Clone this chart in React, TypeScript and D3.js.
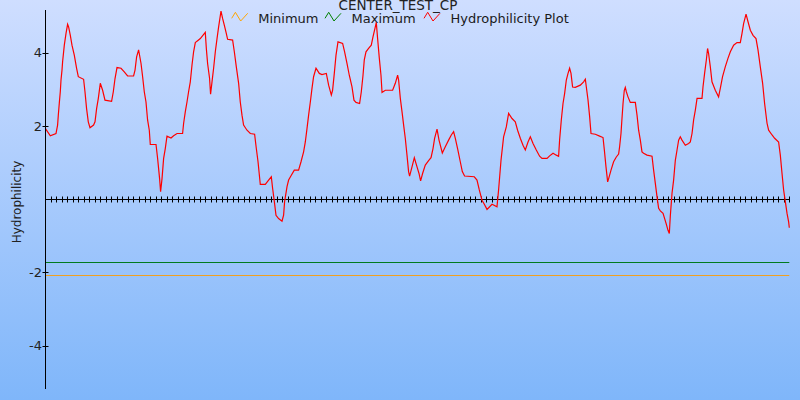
import React from "react";
import * as d3 from "d3";

const title = "CENTER_TEST_CP";
const yLabel = "Hydrophilicity";
const yTickValues = [4, 2, -2, -4];
const residueTicks = d3.range(1, 136);
const minimumValue = -2.08;
const maximumValue = -1.71;

const residue = [
  0, 0.91, 1.94, 2.23, 2.36, 2.54, 2.72, 2.85, 3.03, 3.14, 3.45, 3.76, 4.05, 4.23, 4.54, 4.84, 5.26, 5.68, 5.99, 6.95,
  7.2, 7.49, 7.8, 8.11, 8.76, 9.02, 9.31, 9.62, 9.98, 10.4, 10.83, 12.03, 12.34, 12.65, 13.01, 13.74, 14.33, 14.93, 16.02, 16.28,
  16.57, 16.93, 17.37, 17.66, 17.96, 18.27, 18.56, 18.87, 19.05, 20.09, 20.38, 20.74, 20.92, 21.18, 21.47, 21.77, 22.08, 22.81, 23.28, 23.9,
  24.91, 25.1, 25.4, 25.71, 26.0, 26.31, 26.62, 26.91, 27.22, 27.53, 28.13, 29.03, 29.22, 29.45, 29.81, 29.99, 30.25, 30.54, 30.85, 31.16,
  31.45, 31.88, 32.17, 32.48, 32.84, 33.08, 33.99, 34.3, 34.66, 35.08, 35.38, 35.69, 35.98, 36.6, 37.2, 37.98, 38.29, 38.6, 39.01, 39.92,
  40.52, 41.01, 41.25, 41.56, 41.86, 42.33, 42.95, 43.24, 43.42, 43.86, 44.15, 44.64, 45.18, 45.96, 46.4, 46.87, 47.18, 47.49, 47.78, 48.09,
  48.39, 48.68, 49.12, 49.72, 50.2, 50.99, 51.41, 51.9, 52.13, 52.44, 52.75, 53.11, 53.95, 54.31, 54.75, 55.16, 55.65, 56.01, 56.38, 57.03,
  57.34, 57.65, 57.88, 58.19, 58.66, 59.15, 59.46, 59.88, 60.06, 60.3, 60.61, 60.91, 61.1, 61.7, 63.02, 63.51, 63.93, 64.11, 64.42, 64.73,
  65.02, 65.32, 65.63, 65.92, 66.1, 66.54, 66.96, 67.45, 67.81, 68.1, 68.46, 68.95, 69.55, 69.99, 70.35, 70.64, 71.08, 71.44, 72.04, 72.58,
  73.18, 73.67, 74.09, 74.4, 74.81, 75.3, 75.67, 76.08, 77.84, 78.33, 78.75, 79.24, 79.66, 80.15, 81.06, 81.96, 82.25, 82.69, 83.16, 83.65,
  84.07, 84.69, 85.28, 85.7, 86.19, 86.68, 87.1, 87.59, 88.01, 88.5, 89.09, 89.69, 90.13, 91.04, 91.51, 92.13, 92.72, 93.14, 93.32, 93.63,
  93.94, 94.23, 94.54, 94.85, 95.14, 95.39, 95.68, 96.17, 97.08, 97.68, 97.99, 98.17, 98.48, 98.77, 99.02, 99.8, 100.58, 101.2, 101.44, 101.74,
  102.04, 102.22, 102.65, 103.12, 103.61, 104.03, 104.21, 104.46, 104.64, 104.83, 105.06, 105.24, 105.43, 105.73, 106.15, 107.06, 107.37, 107.66, 107.97, 108.27,
  108.56, 109.18, 110.09, 110.38, 110.69, 111.0, 111.29, 111.6, 112.09, 112.38, 112.68, 112.99, 113.23, 113.41, 113.72, 114.01, 114.32, 114.63, 114.92, 115.22,
  115.53, 116.13, 116.73, 117.04, 117.35, 117.64, 117.95, 118.26, 119.16, 119.34, 119.63, 119.94, 120.17, 120.35, 120.67, 120.97, 121.57, 122.17, 122.48, 122.89,
  123.38, 123.87, 124.3, 124.9, 125.51, 126.11, 126.42, 126.71, 127.15, 127.51, 127.93, 128.42, 128.96, 129.32, 129.74, 130.16, 130.52, 130.96, 131.25, 131.87,
  132.34, 133.06, 133.37, 133.68, 133.97, 134.28, 134.59, 134.88, 135
];

const hydrophilicity = [
  1.93, 1.73, 1.79, 2.02, 2.29, 2.62, 2.93, 3.25, 3.52, 3.75, 4.2, 4.52, 4.77, 4.7, 4.47, 4.2, 3.93, 3.57, 3.34, 3.27,
  2.93, 2.47, 2.11, 1.95, 2.02, 2.11, 2.47, 2.75, 3.16, 2.97, 2.7, 2.67, 2.93, 3.29, 3.59, 3.57, 3.47, 3.36, 3.36, 3.52,
  3.88, 4.07, 3.7, 3.34, 2.93, 2.65, 2.16, 1.88, 1.49, 1.49, 1.11, 0.56, 0.2, 0.56, 1.11, 1.38, 1.72, 1.67, 1.73, 1.79,
  1.79, 2.07, 2.38, 2.65, 2.93, 3.2, 3.66, 4.02, 4.27, 4.31, 4.38, 4.55, 4.11, 3.7, 3.29, 2.86, 3.2, 3.57, 4.02, 4.38,
  4.7, 5.13, 4.93, 4.75, 4.52, 4.36, 4.34, 4.02, 3.61, 3.16, 2.65, 2.29, 2.02, 1.88, 1.79, 1.77, 1.38, 1.02, 0.4, 0.4,
  0.52, 0.61, 0.29, -0.07, -0.44, -0.53, -0.6, -0.44, -0.07, 0.34, 0.52, 0.65, 0.79, 0.79, 1.02, 1.29, 1.56, 1.93, 2.29, 2.65,
  3.02, 3.34, 3.57, 3.43, 3.4, 3.43, 3.11, 2.84, 2.97, 3.43, 3.93, 4.29, 4.25, 4.02, 3.7, 3.38, 3.06, 2.7, 2.64, 2.61,
  2.93, 3.38, 3.8, 4.02, 4.11, 4.2, 4.43, 4.7, 4.82, 4.38, 3.84, 3.38, 2.91, 2.97, 2.97, 3.16, 3.38, 3.25, 2.75, 2.38,
  2.02, 1.66, 1.2, 0.75, 0.63, 0.88, 1.13, 0.88, 0.7, 0.5, 0.7, 0.93, 1.05, 1.13, 1.38, 1.66, 1.91, 1.61, 1.26, 1.43,
  1.61, 1.75, 1.84, 1.66, 1.38, 1.02, 0.75, 0.63, 0.61, 0.52, 0.25, -0.03, -0.14, -0.28, -0.14, -0.21, 0.25, 1.06, 1.7, 1.97,
  2.34, 2.2, 2.11, 1.88, 1.66, 1.47, 1.34, 1.56, 1.7, 1.52, 1.34, 1.17, 1.11, 1.11, 1.18, 1.25, 1.2, 1.17, 1.61, 2.16,
  2.61, 2.88, 3.25, 3.43, 3.57, 3.43, 3.06, 3.05, 3.11, 3.2, 3.27, 3.06, 2.7, 2.25, 1.79, 1.77, 1.72, 1.68, 1.34, 0.88,
  0.47, 0.56, 0.79, 1.02, 1.15, 1.23, 1.43, 1.79, 2.2, 2.61, 2.97, 3.05, 2.93, 2.79, 2.64, 2.64, 2.29, 1.88, 1.61, 1.29,
  1.25, 1.2, 1.17, 0.79, 0.43, 0.06, -0.25, -0.32, -0.39, -0.53, -0.68, -0.85, -0.94, -0.46, 0.16, 0.52, 1.06, 1.34, 1.61, 1.7,
  1.61, 1.47, 1.52, 1.56, 1.79, 2.16, 2.43, 2.75, 2.75, 3.06, 3.43, 3.79, 4.11, 3.98, 3.61, 3.2, 2.97, 2.79, 3.02, 3.34,
  3.61, 3.84, 4.02, 4.2, 4.27, 4.27, 4.52, 4.79, 5.05, 4.84, 4.61, 4.47, 4.38, 4.07, 3.61, 3.16, 2.61, 2.07, 1.88, 1.75,
  1.66, 1.56, 1.2, 0.7, 0.25, -0.07, -0.39, -0.62, -0.78
];

const legendItems = [
  { label: "Minimum", color: "#ffa500" },
  { label: "Maximum", color: "#008000" },
  { label: "Hydrophilicity Plot", color: "#ff0000" },
];

const W = 800;
const H = 400;
const FONT = "'DejaVu Sans', Verdana, sans-serif";

export default function App() {
  const x = d3.scaleLinear().domain([0, 135]).range([45.3, 789.3]);
  const y = d3.scaleLinear().domain([-5.18, 5.16]).range([389, 10]);
  const pts: [number, number][] = residue.map((r, i) => [r, hydrophilicity[i]]);
  const line = d3
    .line<[number, number]>()
    .x((d) => x(d[0]))
    .y((d) => y(d[1]));

  const legendX = [231.7, 325, 424];
  const zig = "M0,6 L3.7,0 L9,8.7 L16,1";

  return (
    <svg
      width={W}
      height={H}
      style={{ position: "absolute", left: 0, top: 0, display: "block" }}
      fontFamily={FONT}
    >
      <defs>
        <linearGradient id="bg" x1="0" y1="0" x2="0" y2="1">
          <stop offset="0" stopColor="#cfdeff" />
          <stop offset="1" stopColor="#7fb6fa" />
        </linearGradient>
      </defs>
      <rect x={0} y={0} width={W} height={H} fill="url(#bg)" />

      {/* min / max reference lines */}
      <line x1={x(0)} x2={x(135)} y1={Math.round(y(maximumValue)) + 0.5} y2={Math.round(y(maximumValue)) + 0.5} stroke="#007a1e" strokeWidth={1.2} />
      <line x1={x(0)} x2={x(135)} y1={Math.round(y(minimumValue)) + 0.5} y2={Math.round(y(minimumValue)) + 0.5} stroke="#f0a020" strokeWidth={1} />

      {/* zero axis with residue ticks */}
      <line x1={x(0)} x2={x(135)} y1={Math.round(y(0)) + 0.5} y2={Math.round(y(0)) + 0.5} stroke="#000" strokeWidth={1} />
      {residueTicks.map((t) => (
        <line
          key={t}
          x1={Math.round(x(t)) + 0.5}
          x2={Math.round(x(t)) + 0.5}
          y1={Math.round(y(0)) - 2.5}
          y2={Math.round(y(0)) + 3.5}
          stroke="#000"
          strokeWidth={1}
        />
      ))}

      {/* data line */}
      <path d={line(pts) || ""} fill="none" stroke="#ff0000" strokeWidth={1.2} />

      {/* y axis */}
      <line x1={45.5} x2={45.5} y1={y.range()[1]} y2={y.range()[0]} stroke="#000" strokeWidth={1} />
      {yTickValues.map((v) => (
        <g key={v}>
          <line x1={42.5} x2={48.5} y1={Math.round(y(v)) + 0.5} y2={Math.round(y(v)) + 0.5} stroke="#000" />
          <text x={42} y={y(v)} dy="0.36em" textAnchor="end" fontSize={13} fill="#222">
            {v}
          </text>
        </g>
      ))}
      <text
        transform={`translate(20.5, 202) rotate(-90)`}
        textAnchor="middle"
        fontSize={12}
        fill="#222"
      >
        {yLabel}
      </text>

      {/* title */}
      <text x={398} y={10} textAnchor="middle" fontSize={13.5} fill="#222">
        {title}
      </text>

      {/* legend */}
      {legendItems.map((it, i) => (
        <g key={it.label} transform={`translate(${legendX[i]}, 12.3)`}>
          <path d={zig} fill="none" stroke={it.color} strokeWidth={1} />
          <text x={26.5} y={10.3} fontSize={13} fill="#1a1a1a">
            {it.label}
          </text>
        </g>
      ))}
    </svg>
  );
}
